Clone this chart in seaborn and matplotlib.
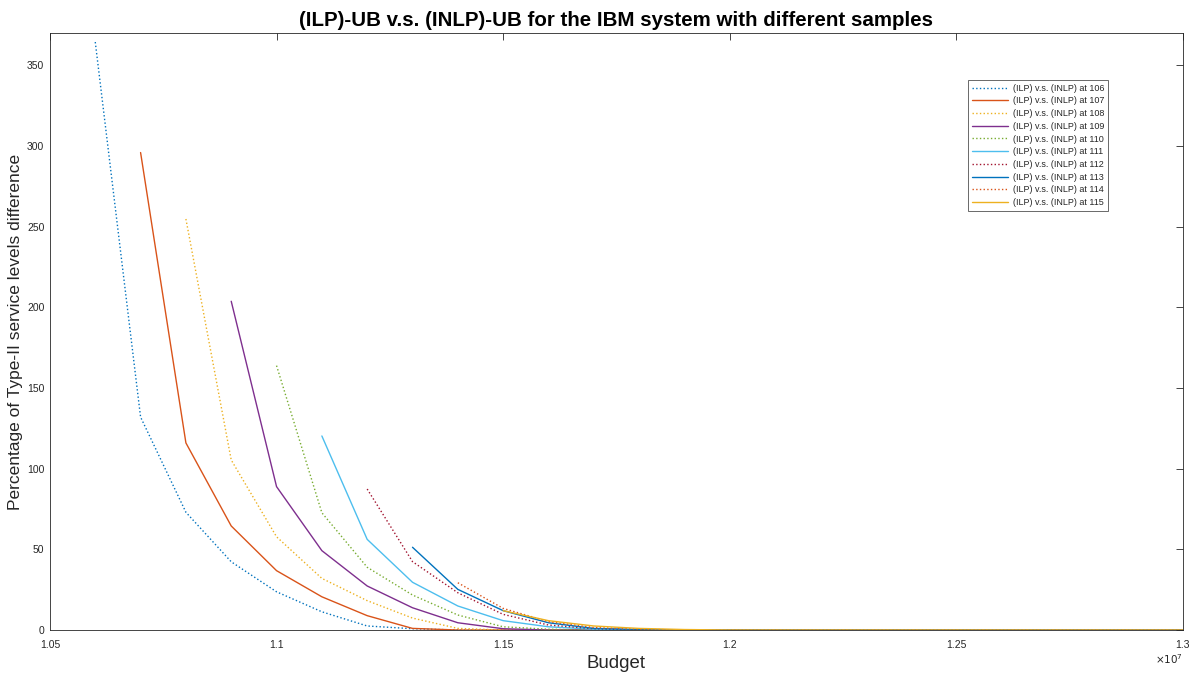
import numpy as np
import pandas as pd
import matplotlib
matplotlib.use("Agg")
import matplotlib.pyplot as plt
import seaborn as sns
from matplotlib.ticker import FuncFormatter

# Budget grid (in units of 1e7)
budget_e7 = [1.06, 1.07, 1.08, 1.09, 1.10, 1.11, 1.12, 1.13, 1.14, 1.15, 1.16, 1.17, 1.18,
             1.19, 1.20, 1.21, 1.22, 1.23, 1.24, 1.25, 1.26, 1.27, 1.28, 1.29, 1.30]

samples = [106, 107, 108, 109, 110, 111, 112, 113, 114, 115]

# Values starting at the sample's own budget (1.06, 1.07, ...), remaining zeros up to 1.3
s106 = [364.5, 132, 73, 42.3, 23.7, 11.3, 2.5, 0.8, 0, 0, 0, 0, 0, 0, 0, 0, 0, 0, 0, 0, 0, 0, 0, 0, 0]
s107 = [296, 116, 64.5, 36.8, 20.6, 8.9, 1.0, 0, 0, 0, 0, 0, 0, 0, 0, 0, 0, 0, 0, 0, 0, 0, 0, 0]
s108 = [254.8, 105.4, 57.8, 32, 18.2, 7.4, 1.0, 0, 0, 0, 0, 0, 0, 0, 0, 0, 0, 0, 0, 0, 0, 0, 0]
s109 = [203.8, 88.9, 49.2, 27.3, 13.8, 4.5, 0.8, 0, 0, 0, 0, 0, 0, 0, 0, 0, 0, 0, 0, 0, 0, 0]
s110 = [163.9, 72.7, 38.9, 21.7, 9.3, 2.0, 0.5, 0, 0, 0, 0, 0, 0, 0, 0, 0, 0, 0, 0, 0, 0]
s111 = [120.3, 56.2, 29.6, 14.9, 5.8, 2.0, 0.5, 0, 0, 0, 0, 0, 0, 0, 0, 0, 0, 0, 0, 0]
s112 = [87.4, 42.4, 23.1, 9.7, 3.1, 0.8, 0, 0, 0, 0, 0, 0, 0, 0, 0, 0, 0, 0, 0]
s113 = [51.3, 25.2, 12.0, 4.5, 1.0, 0.3, 0, 0, 0, 0, 0, 0, 0, 0, 0, 0, 0, 0]
s114 = [29.3, 13.4, 5.2, 1.5, 0.5, 0, 0, 0, 0, 0, 0, 0, 0, 0, 0, 0, 0]
s115 = [12.0, 5.8, 2.5, 1.0, 0.3, 0, 0, 0, 0, 0, 0, 0, 0, 0, 0, 0]
series = [s106, s107, s108, s109, s110, s111, s112, s113, s114, s115]

x_ticks_e7 = [1.05, 1.1, 1.15, 1.2, 1.25, 1.3]
y_ticks = [0, 50, 100, 150, 200, 250, 300, 350]

matlab_colors = ["#0072BD", "#D95319", "#EDB120", "#7E2F8E", "#77AC30",
                 "#4DBEEE", "#A2142F", "#0072BD", "#D95319", "#EDB120"]

rows = []
for k, (smp, vals) in enumerate(zip(samples, series)):
    xs = budget_e7[k:]
    for xv, yv in zip(xs, vals):
        rows.append({"Budget": xv * 1e7, "Value": yv,
                     "Series": f"(ILP) v.s. (INLP) at {smp}"})
df = pd.DataFrame(rows)

sns.set_theme(style="white")
plt.rcParams["font.family"] = ["Liberation Sans", "DejaVu Sans"]
plt.rcParams["mathtext.fontset"] = "dejavusans"

fig = plt.figure(figsize=(11.92, 6.77), dpi=100)
ax = fig.add_axes([0.0419, 0.0694, 0.9505, 0.8816])

for k, smp in enumerate(samples):
    name = f"(ILP) v.s. (INLP) at {smp}"
    sub = df[df["Series"] == name]
    sns.lineplot(data=sub, x="Budget", y="Value", ax=ax, color=matlab_colors[k],
                 linestyle=":" if k % 2 == 0 else "-", linewidth=1.0,
                 label=name, estimator=None, sort=False)

ax.set_xlim(1.05e7, 1.3e7)
ax.set_ylim(0, 370)
ax.set_xticks([v * 1e7 for v in x_ticks_e7])
ax.xaxis.set_major_formatter(FuncFormatter(lambda v, p: f"{v/1e7:g}"))
ax.set_yticks(y_ticks)

for sp in ax.spines.values():
    sp.set_color("#262626")
    sp.set_linewidth(0.6)
    sp.set_visible(True)
ax.tick_params(axis="both", which="both", direction="in", top=True, right=True,
               length=5, width=0.6, color="#262626", labelsize=7.5, labelcolor="#262626")
ax.tick_params(axis="x", pad=7)
ax.tick_params(axis="y", pad=4)

ax.set_xlabel("Budget", fontsize=13.4, color="#262626", labelpad=4)
ax.set_ylabel("Percentage of Type-II service levels difference", fontsize=12.5,
              color="#262626", labelpad=3)
ax.set_title("(ILP)-UB v.s. (INLP)-UB for the IBM system with different samples",
             fontsize=14.8, fontweight="bold", color="black", pad=5)

ax.text(1.0, -0.037, r"$\times10^{7}$", transform=ax.transAxes, ha="right", va="top",
        fontsize=7.5, color="#262626")

leg = ax.legend(loc="upper right", bbox_to_anchor=(0.934, 0.922), fontsize=6.5,
                frameon=True, fancybox=False, handlelength=4.0, borderpad=0.45,
                labelspacing=0.41, handletextpad=0.5, borderaxespad=0)
leg.get_frame().set_edgecolor("#262626")
leg.get_frame().set_linewidth(0.6)

fig.savefig("out.png", dpi=100, facecolor="white")
